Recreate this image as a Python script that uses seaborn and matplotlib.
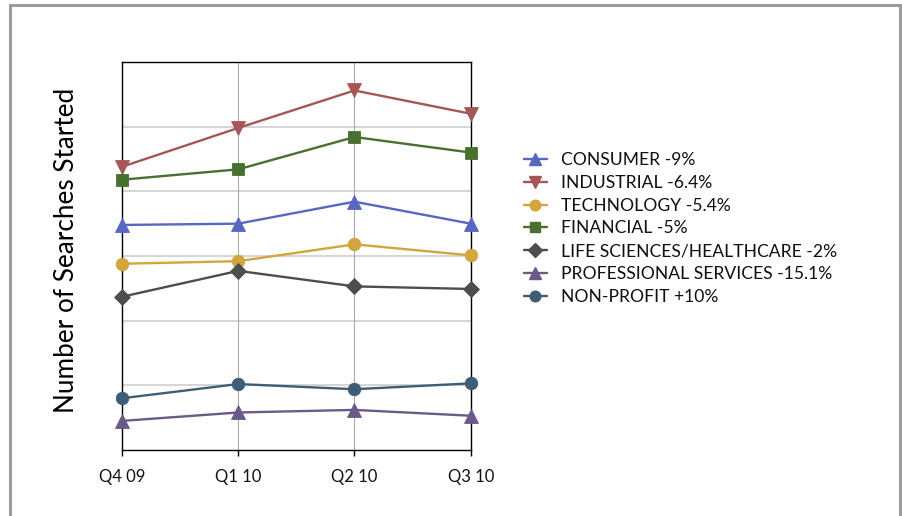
import matplotlib
matplotlib.use("Agg")
import matplotlib.pyplot as plt
import seaborn as sns
import pandas as pd
from matplotlib.patches import Rectangle
from matplotlib.lines import Line2D

# Quarterly searches started, by sector (arbitrary index units)
quarters = ["Q4 09", "Q1 10", "Q2 10", "Q3 10"]
consumer = [174, 175, 192, 175]
industrial = [219, 249, 278, 260]
technology = [144, 146, 159, 150.5]
financial = [209, 217, 242, 230]
life_sciences = [118.5, 138.5, 126.5, 124.5]
professional = [22.5, 29, 31, 26.5]
non_profit = [40, 51, 47, 51.5]

sectors = ["CONSUMER", "INDUSTRIAL", "TECHNOLOGY", "FINANCIAL",
           "LIFE SCIENCES/HEALTHCARE", "PROFESSIONAL SERVICES", "NON-PROFIT"]
changes = ["-9%", "-6.4%", "-5.4%", "-5%", "-2%", "-15.1%", "+10%"]
series = [consumer, industrial, technology, financial,
          life_sciences, professional, non_profit]

colors = ["#5767c2", "#a65656", "#d2a63c", "#48712f", "#4d4d4d", "#6b5a87", "#3e5e77"]
markers = ["^", "v", "o", "s", "D", "^", "o"]
msizes = [10.5, 10.5, 9, 9, 8.5, 10.5, 9]

rows = []
for name, vals in zip(sectors, series):
    for i, (q, v) in enumerate(zip(quarters, vals)):
        rows.append({"sector": name, "qi": i, "quarter": q, "searches": v})
df = pd.DataFrame(rows)

sns.set_theme(style="white")
plt.rcParams["font.family"] = ["Lato", "DejaVu Sans"]

fig = plt.figure(figsize=(9.02, 5.16), dpi=100)
ax = fig.add_axes([122 / 902, 1 - 450 / 516, (470.7 - 122) / 902, (450 - 62) / 516])

for name, col, mk, ms in zip(sectors, colors, markers, msizes):
    sub = df[df["sector"] == name]
    sns.lineplot(data=sub, x="qi", y="searches", ax=ax, color=col, lw=1.7,
                 marker=mk, markersize=ms, markeredgecolor=col,
                 markeredgewidth=0.6, legend=False, zorder=3, clip_on=False)

ax.set_xlim(0, 3)
ax.set_ylim(0, 300)
ax.set_xticks(range(len(quarters)))
ax.set_xticklabels(quarters, fontsize=12, color="#111111")
ax.set_yticks(range(0, 301, 50))
ax.set_yticklabels([])
ax.tick_params(axis="x", direction="out", length=4, width=1, color="black", pad=10, bottom=True)
ax.tick_params(axis="y", length=0)

# horizontal gridlines light and heavy, vertical ones thin
for yv in range(50, 300, 50):
    ax.axhline(yv, color="#d6d6d6", lw=1.5, zorder=1)
for xv in range(1, 3):
    ax.axvline(xv, color="#aaaaaa", lw=0.8, zorder=1)
ax.grid(False)
for sp in ax.spines.values():
    sp.set_visible(True)
    sp.set_color("black")
    sp.set_linewidth(1.0)

ax.set_xlabel("")
ax.set_ylabel("Number of Searches Started", fontsize=18.8, color="black")
ax.yaxis.set_label_coords(-0.122, 0.515)

handles = [Line2D([0], [0], color=c, lw=1.7, marker=m, markersize=s * 0.85,
                  markeredgecolor=c)
           for c, m, s in zip(colors, markers, msizes)]
labels = [f"{s} {c}" for s, c in zip(sectors, changes)]
fig.legend(handles, labels, loc="upper left", bbox_to_anchor=(524 / 902, 1 - 152 / 516),
           frameon=False, fontsize=12.6, handlelength=1.3, handletextpad=0.8,
           labelspacing=0.39, borderaxespad=0, borderpad=0, labelcolor="#111111")

# outer frame
fig.patches.append(Rectangle((9.5 / 902, -0.05), (900 - 9.5) / 902, 1.05 - 5.5 / 516,
                             transform=fig.transFigure, fill=False,
                             edgecolor="#9c9c9c", lw=2.2))

fig.savefig("out.png", dpi=100)
